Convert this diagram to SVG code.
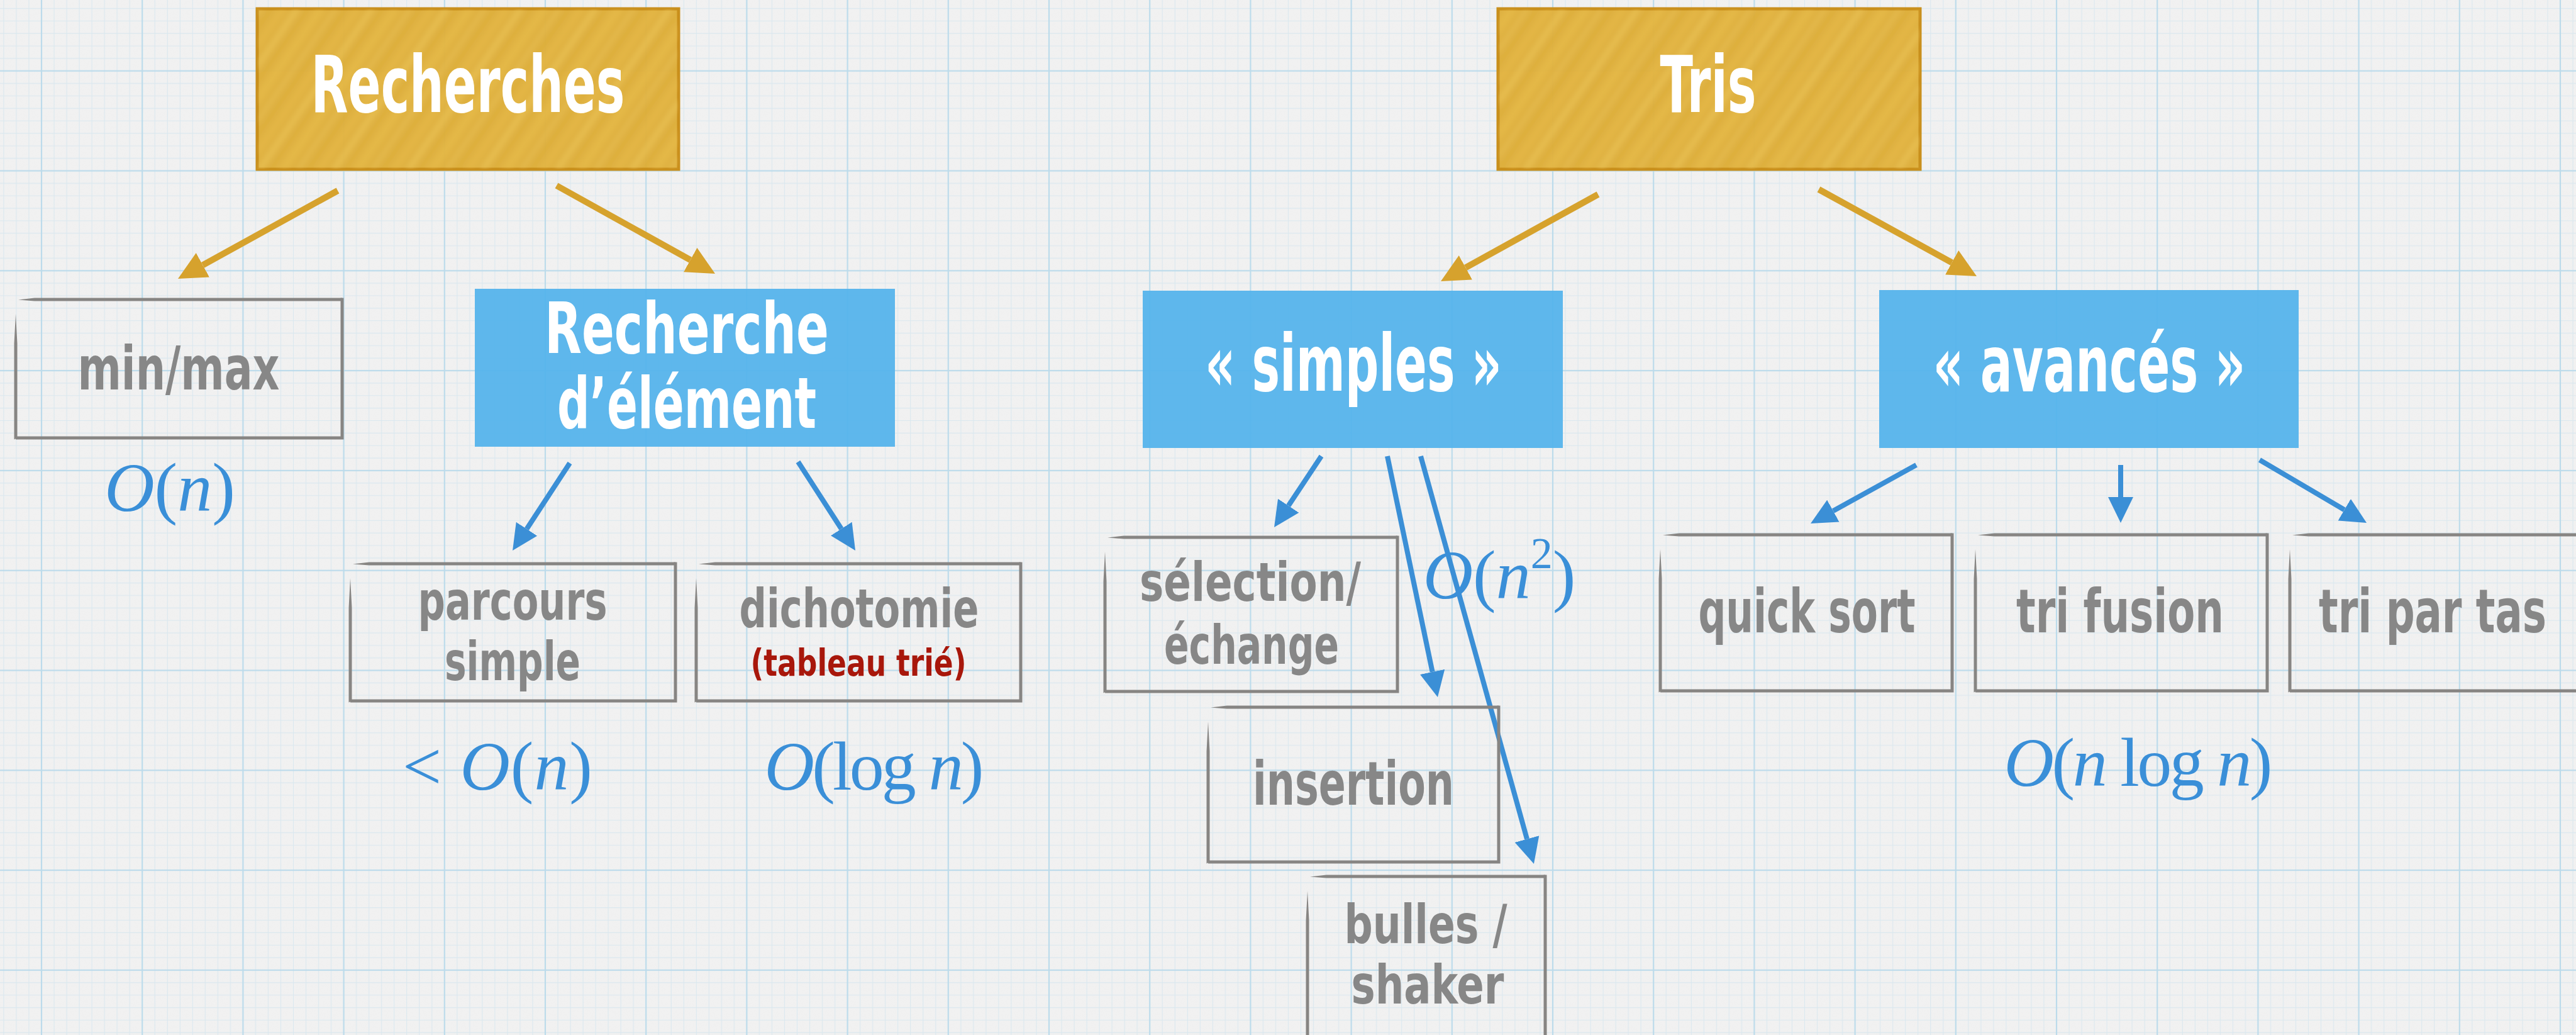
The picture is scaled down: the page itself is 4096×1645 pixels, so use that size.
<svg xmlns="http://www.w3.org/2000/svg" width="4096" height="1645" viewBox="0 0 4096 1645">
  <style>
    .title { font-family: "Liberation Sans Narrow", "DejaVu Sans Condensed", "Liberation Sans", sans-serif; font-weight: bold; font-size: 125px; fill: #ffffff; text-anchor: middle; }
    .title2 { font-size: 112px; }
    .label { font-family: "Liberation Sans Narrow", "DejaVu Sans Condensed", "Liberation Sans", sans-serif; font-weight: bold; font-size: 96px; fill: #878787; text-anchor: middle; }
    .label2 { font-size: 86px; }
    .note { font-family: "Liberation Sans Narrow", "DejaVu Sans Condensed", "Liberation Sans", sans-serif; font-weight: bold; font-size: 58px; fill: #a8170b; text-anchor: middle; }
    .math { font-family: "Liberation Serif", "DejaVu Serif", serif; font-size: 110px; fill: #3a8fd8; text-anchor: middle; }
    .it { font-style: italic; }
    .gold { fill: #deae3b; fill-opacity: 0.97; stroke: #c98f1c; stroke-width: 5; }
    .blue { fill: #53b3ec; fill-opacity: 0.93; }
    .edge { fill: #878583; }
    .frame { fill: none; stroke: #878583; stroke-width: 5; stroke-linejoin: miter; }
    .ga { stroke: #d6a22d; stroke-width: 10; fill: none; marker-end: url(#headGold); }
    .ba { stroke: #3b8fd6; stroke-width: 8; fill: none; marker-end: url(#headBlue); }
  </style>
  <defs>
    <!-- graph paper: 8 minor cells per major cell -->
    <pattern id="grid" patternUnits="userSpaceOnUse" x="66" y="112.7" width="160.2" height="158.8">
      <path d="M20.03 0V158.8M40.05 0V158.8M60.08 0V158.8M80.1 0V158.8M100.13 0V158.8M120.15 0V158.8M140.18 0V158.8M0 19.85H160.2M0 39.7H160.2M0 59.55H160.2M0 79.4H160.2M0 99.25H160.2M0 119.1H160.2M0 138.95H160.2" stroke="#dae8ef" stroke-width="1.1" fill="none"/>
      <rect x="0" y="0" width="1.1" height="158.8" fill="#bcdbeb"/>
      <rect x="159.1" y="0" width="1.1" height="158.8" fill="#bcdbeb"/>
      <rect x="0" y="0" width="160.2" height="1.1" fill="#bcdbeb"/>
      <rect x="0" y="157.7" width="160.2" height="1.1" fill="#bcdbeb"/>
    </pattern>
    <filter id="grain" x="0" y="0" width="100%" height="100%">
      <feTurbulence type="fractalNoise" baseFrequency="0.9" numOctaves="2" seed="4"/>
      <feColorMatrix values="0 0 0 0 0.5  0 0 0 0 0.5  0 0 0 0 0.5  0 0 0 0.05 0"/>
    </filter>
    <!-- brushed streaks on the gold headers -->
    <pattern id="streak" patternUnits="userSpaceOnUse" width="97" height="400" patternTransform="rotate(35)">
      <rect x="3" y="0" width="9" height="400" fill="#f7d66c" opacity="0.35"/>
      <rect x="19" y="0" width="3" height="400" fill="#c9951f" opacity="0.18"/>
      <rect x="31" y="0" width="14" height="400" fill="#f4cf60" opacity="0.22"/>
      <rect x="55" y="0" width="5" height="400" fill="#f8da72" opacity="0.3"/>
      <rect x="68" y="0" width="4" height="400" fill="#c99a2a" opacity="0.15"/>
      <rect x="80" y="0" width="11" height="400" fill="#f3cc5c" opacity="0.2"/>
    </pattern>
    <filter id="soft"><feGaussianBlur stdDeviation="4"/></filter>
    <clipPath id="clipR"><rect x="409" y="14" width="670" height="255"/></clipPath>
    <clipPath id="clipT"><rect x="2382" y="14" width="671" height="255"/></clipPath>
    <marker id="headGold" markerUnits="userSpaceOnUse" markerWidth="46" markerHeight="44" refX="0" refY="22" orient="auto">
      <path d="M0 0L45 22L0 44Z" fill="#d6a22d"/>
    </marker>
    <marker id="headBlue" markerUnits="userSpaceOnUse" markerWidth="42" markerHeight="40" refX="0" refY="20" orient="auto">
      <path d="M0 0L41 20L0 40Z" fill="#3b8fd6"/>
    </marker>
  </defs>

  <!-- paper -->
  <rect width="4096" height="1645" fill="#f2f2f2"/>
  <rect width="4096" height="1645" filter="url(#grain)"/>
  <rect width="4096" height="1645" fill="url(#grid)"/>

  <!-- connectors -->
  <g id="connectors">
    <line class="ga" x1="537" y1="303" x2="322.4" y2="421.3"/>
    <line class="ga" x1="885" y1="295" x2="1097.7" y2="413.1"/>
    <line class="ga" x1="2541" y1="309" x2="2330.4" y2="425.3"/>
    <line class="ga" x1="2892" y1="301" x2="3103.6" y2="417.3"/>
    <line class="ba" x1="906" y1="736" x2="837.5" y2="840.7"/>
    <line class="ba" x1="1269" y1="734" x2="1337.8" y2="840.5"/>
    <line class="ba" x1="2101" y1="725" x2="2048.7" y2="803.8"/>
    <line class="ba" x1="2206" y1="725" x2="2277.6" y2="1067.9"/>
    <line class="ba" x1="2259" y1="725" x2="2428" y2="1333.5"/>
    <line class="ba" x1="3047" y1="739" x2="2914.9" y2="812.1"/>
    <line class="ba" x1="3372" y1="739" x2="3372" y2="790"/>
    <line class="ba" x1="3593" y1="731" x2="3727.7" y2="810.2"/>
  </g>

  <!-- headers -->
  <g id="recherches">
    <rect class="gold" x="409" y="14" width="670" height="255"/>
    <rect x="409" y="14" width="670" height="255" fill="url(#streak)" filter="url(#soft)" clip-path="url(#clipR)"/>
    <text class="title" x="744" y="178" textLength="499" lengthAdjust="spacingAndGlyphs">Recherches</text>
  </g>
  <g id="tris">
    <rect class="gold" x="2382" y="14" width="671" height="255"/>
    <rect x="2382" y="14" width="671" height="255" fill="url(#streak)" filter="url(#soft)" clip-path="url(#clipT)"/>
    <text class="title" x="2716" y="178" textLength="153" lengthAdjust="spacingAndGlyphs">Tris</text>
  </g>

  <!-- categories -->
  <g id="recherche-element">
    <rect class="blue" x="755" y="459" width="668" height="251"/>
    <text class="title title2" x="1092" y="561" textLength="452" lengthAdjust="spacingAndGlyphs">Recherche</text>
    <text class="title title2" x="1092" y="680" textLength="412" lengthAdjust="spacingAndGlyphs">d’élément</text>
  </g>
  <g id="simples">
    <rect class="blue" x="1817" y="462" width="668" height="250"/>
    <text class="title" x="2152" y="621" textLength="472" lengthAdjust="spacingAndGlyphs">« simples »</text>
  </g>
  <g id="avances">
    <rect class="blue" x="2988" y="461" width="667" height="251"/>
    <text class="title" x="3322" y="622" textLength="497" lengthAdjust="spacingAndGlyphs">« avancés »</text>
  </g>

  <!-- algorithms -->
  <g id="minmax">
    <path class="edge" d="M29 476.5L55 473.5L544 473.5L544 478.5L55 478.5ZM25 499L27.5 546L27.5 696L22.5 698.5L22.5 546Z"/>
    <path class="frame" d="M544 473.5V696H25"/>
    <text class="label" x="284" y="619" textLength="321" lengthAdjust="spacingAndGlyphs">min/max</text>
  </g>
  <g id="parcours">
    <path class="edge" d="M561 896.5L587 893.5L1074 893.5L1074 898.5L587 898.5ZM557 919L559.5 966L559.5 1114L554.5 1116.5L554.5 966Z"/>
    <path class="frame" d="M1074 893.5V1114H557"/>
    <text class="label label2" x="815" y="985" textLength="301" lengthAdjust="spacingAndGlyphs">parcours</text>
    <text class="label label2" x="815" y="1081" textLength="216" lengthAdjust="spacingAndGlyphs">simple</text>
  </g>
  <g id="dichotomie">
    <path class="edge" d="M1111 896.5L1137 893.5L1623 893.5L1623 898.5L1137 898.5ZM1107 919L1109.5 966L1109.5 1114L1104.5 1116.5L1104.5 966Z"/>
    <path class="frame" d="M1623 893.5V1114H1107"/>
    <text class="label label2" x="1366" y="997" textLength="381" lengthAdjust="spacingAndGlyphs">dichotomie</text>
    <text class="note" x="1365" y="1074" textLength="343" lengthAdjust="spacingAndGlyphs">(tableau trié)</text>
  </g>
  <g id="selection">
    <path class="edge" d="M1761 854.5L1787 851.5L2222 851.5L2222 856.5L1787 856.5ZM1757 877L1759.5 924L1759.5 1099L1754.5 1101.5L1754.5 924Z"/>
    <path class="frame" d="M2222 851.5V1099H1757"/>
    <text class="label label2" x="1988" y="955" textLength="352" lengthAdjust="spacingAndGlyphs">sélection/</text>
    <text class="label label2" x="1990" y="1055" textLength="278" lengthAdjust="spacingAndGlyphs">échange</text>
  </g>
  <g id="insertion">
    <path class="edge" d="M1925 1124.5L1951 1121.5L2383 1121.5L2383 1126.5L1951 1126.5ZM1921 1147L1923.5 1194L1923.5 1370L1918.5 1372.5L1918.5 1194Z"/>
    <path class="frame" d="M2383 1121.5V1370H1921"/>
    <text class="label" x="2152" y="1279" textLength="320" lengthAdjust="spacingAndGlyphs">insertion</text>
  </g>
  <g id="bulles">
    <path class="edge" d="M2083 1393.5L2109 1390.5L2457 1390.5L2457 1395.5L2109 1395.5ZM2079 1416L2081.5 1463L2081.5 1700L2076.5 1702.5L2076.5 1463Z"/>
    <path class="frame" d="M2457 1390.5V1700H2079"/>
    <text class="label label2" x="2267" y="1499" textLength="259" lengthAdjust="spacingAndGlyphs">bulles /</text>
    <text class="label label2" x="2270" y="1595" textLength="243" lengthAdjust="spacingAndGlyphs">shaker</text>
  </g>
  <g id="quicksort">
    <path class="edge" d="M2644 850.5L2670 847.5L3104 847.5L3104 852.5L2670 852.5ZM2640 873L2642.5 920L2642.5 1098L2637.5 1100.5L2637.5 920Z"/>
    <path class="frame" d="M3104 847.5V1098H2640"/>
    <text class="label" x="2873" y="1005" textLength="345" lengthAdjust="spacingAndGlyphs">quick sort</text>
  </g>
  <g id="fusion">
    <path class="edge" d="M3145 850.5L3171 847.5L3605 847.5L3605 852.5L3171 852.5ZM3141 873L3143.5 920L3143.5 1098L3138.5 1100.5L3138.5 920Z"/>
    <path class="frame" d="M3605 847.5V1098H3141"/>
    <text class="label" x="3371" y="1005" textLength="330" lengthAdjust="spacingAndGlyphs">tri fusion</text>
  </g>
  <g id="tas">
    <path class="edge" d="M3645 850.5L3671 847.5L4110 847.5L4110 852.5L3671 852.5ZM3641 873L3643.5 920L3643.5 1098L3638.5 1100.5L3638.5 920Z"/>
    <path class="frame" d="M4110 847.5V1098H3641"/>
    <text class="label" x="3868" y="1005" textLength="362" lengthAdjust="spacingAndGlyphs">tri par tas</text>
  </g>

  <!-- complexities -->
  <g id="complexites">
    <text class="math" x="270" y="812"><tspan class="it">O</tspan>(<tspan class="it">n</tspan>)</text>
    <text class="math" x="791" y="1255" textLength="302">&lt; <tspan class="it">O</tspan>(<tspan class="it">n</tspan>)</text>
    <text class="math" x="1390" y="1255" textLength="349"><tspan class="it">O</tspan>(log <tspan class="it">n</tspan>)</text>
    <text class="math" x="2384" y="951"><tspan class="it">O</tspan>(<tspan class="it">n</tspan><tspan font-size="70" dy="-48">2</tspan><tspan dy="48">)</tspan></text>
    <text class="math" x="3400" y="1249" textLength="427"><tspan class="it">O</tspan>(<tspan class="it">n</tspan> log <tspan class="it">n</tspan>)</text>
  </g>
</svg>
